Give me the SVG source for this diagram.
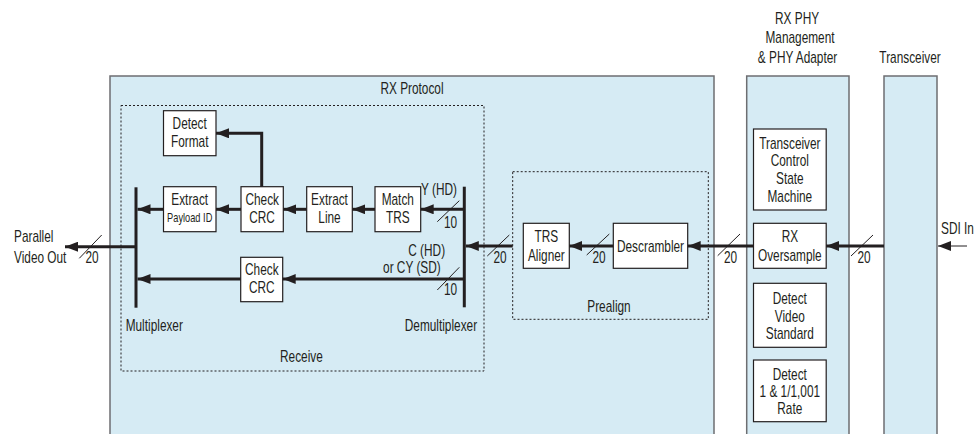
<svg xmlns="http://www.w3.org/2000/svg" width="978" height="434" viewBox="0 0 978 434">
<style>
text{font-family:"Liberation Sans",Arial,sans-serif;font-size:16px;fill:#231f20;transform-box:fill-box;transform:scaleX(0.74);transform-origin:left center}
.m{text-anchor:middle;transform-origin:center}
.e{text-anchor:end;transform-origin:right center}
.sm{font-size:12.5px}
.big{fill:#d6ebf4;stroke:#6d6e71;stroke-width:1.5}
.box{fill:#ffffff;stroke:#231f20;stroke-width:1.2}
.dash{fill:none;stroke:#231f20;stroke-width:1;stroke-dasharray:2 2}
.bus{fill:none;stroke:#231f20;stroke-width:3;marker-end:url(#ah)}
.thin{fill:none;stroke:#231f20;stroke-width:1;marker-end:url(#ah)}
.bar{stroke:#231f20;stroke-width:3}
.sl{stroke:#231f20;stroke-width:1}
</style>
<defs>
<marker id="ah" markerUnits="userSpaceOnUse" markerWidth="13" markerHeight="10" refX="13" refY="5" orient="auto">
<path d="M0,0 L13,5 L0,10 Z" fill="#231f20"/>
</marker>
</defs>
<rect width="978" height="434" fill="#ffffff"/>

<g id="rx_protocol">
<rect class="big" x="110" y="76" width="604" height="400"/>
<text class="m" x="412" y="93.8">RX Protocol</text>
</g>
<g id="rx_phy">
<rect class="big" x="746.7" y="76" width="102.3" height="400"/>
<text class="m" x="797" y="24.1">RX PHY</text>
<text class="m" x="800" y="43.1">Management</text>
<text class="m" x="797.5" y="63.1">&amp; PHY Adapter</text>
</g>
<g id="transceiver">
<rect class="big" x="884" y="76" width="53" height="400"/>
<text class="m" x="910" y="63.1">Transceiver</text>
</g>

<g id="receive">
<rect class="dash" x="121" y="105.5" width="363" height="265.5"/>
<text class="m" x="301.4" y="362.5">Receive</text>
</g>
<g id="prealign">
<rect class="dash" x="512.7" y="171.7" width="195.6" height="147.6"/>
<text class="m" x="609" y="311.8">Prealign</text>
</g>

<g id="detect_format">
<rect class="box" x="163.5" y="110.7" width="52.5" height="45"/>
<text class="m" x="189.7" y="129.1">Detect</text>
<text class="m" x="189.7" y="146.8">Format</text>
</g>
<g id="extract_payload_id">
<rect class="box" x="163.5" y="186.7" width="52.5" height="45"/>
<text class="m" x="189.7" y="205.1">Extract</text>
<text class="m sm" x="189.7" y="222.2">Payload ID</text>
</g>
<g id="check_crc_y">
<rect class="box" x="241" y="186.7" width="42.3" height="45"/>
<text class="m" x="262.1" y="205.1">Check</text>
<text class="m" x="262.1" y="223.1">CRC</text>
</g>
<g id="extract_line">
<rect class="box" x="306.7" y="186.7" width="45.6" height="45"/>
<text class="m" x="329.5" y="205.1">Extract</text>
<text class="m" x="329.5" y="223.1">Line</text>
</g>
<g id="match_trs">
<rect class="box" x="375" y="186.7" width="45.7" height="45"/>
<text class="m" x="397.8" y="205.1">Match</text>
<text class="m" x="397.8" y="223.1">TRS</text>
</g>
<g id="check_crc_c">
<rect class="box" x="240.7" y="257.3" width="42" height="44.4"/>
<text class="m" x="261.7" y="275.1">Check</text>
<text class="m" x="261.7" y="293.1">CRC</text>
</g>
<g id="multiplexer">
<line class="bar" x1="136" y1="187.3" x2="136" y2="307.7"/>
<text x="125.7" y="330.8">Multiplexer</text>
</g>
<g id="demultiplexer">
<line class="bar" x1="464.3" y1="186.7" x2="464.3" y2="307.3"/>
<text class="e" x="477" y="330.8">Demultiplexer</text>
</g>
<g id="trs_aligner">
<rect class="box" x="523.3" y="223.3" width="46" height="45"/>
<text class="m" x="546.3" y="242.5">TRS</text>
<text class="m" x="546.3" y="260.8">Aligner</text>
</g>
<g id="descrambler">
<rect class="box" x="613.3" y="223.3" width="74.4" height="45"/>
<text class="m" x="650.5" y="251.8">Descrambler</text>
</g>
<g id="transceiver_control_state_machine">
<rect class="box" x="753.5" y="129" width="72.7" height="81"/>
<text class="m" x="789.8" y="149.1">Transceiver</text>
<text class="m" x="789.8" y="166.5">Control</text>
<text class="m" x="789.8" y="184.1">State</text>
<text class="m" x="789.8" y="202.5">Machine</text>
</g>
<g id="rx_oversample">
<rect class="box" x="753.5" y="223.3" width="72.7" height="45"/>
<text class="m" x="789.8" y="242.5">RX</text>
<text class="m" x="789.8" y="260.8">Oversample</text>
</g>
<g id="detect_video_standard">
<rect class="box" x="753.5" y="283.3" width="72.7" height="64"/>
<text class="m" x="789.8" y="304.1">Detect</text>
<text class="m" x="789.8" y="321.8">Video</text>
<text class="m" x="789.8" y="339.1">Standard</text>
</g>
<g id="detect_rate">
<rect class="box" x="753.5" y="360" width="72.7" height="61.7"/>
<text class="m" x="789.8" y="379.8">Detect</text>
<text class="m" x="789.8" y="397.5">1 &amp; 1/1,001</text>
<text class="m" x="789.8" y="414.1">Rate</text>
</g>

<g id="connectors">
<polyline class="bus" points="261.7,186.7 261.7,133.3 216,133.3"/>
<line class="bus" x1="163.5" y1="209.3" x2="137.5" y2="209.3"/>
<line class="bus" x1="241" y1="209.3" x2="216" y2="209.3"/>
<line class="bus" x1="306.7" y1="209.3" x2="283.3" y2="209.3"/>
<line class="bus" x1="375" y1="209.3" x2="352.3" y2="209.3"/>
<line class="bus" x1="464.3" y1="209.3" x2="420.7" y2="209.3"/>
<line class="bus" x1="512.7" y1="246" x2="465.8" y2="246"/>
<line class="bus" x1="464.3" y1="279" x2="282.7" y2="279"/>
<line class="bus" x1="240.7" y1="279" x2="137.5" y2="279"/>
<line class="bus" x1="136" y1="246.7" x2="65" y2="246.7"/>
<line class="bus" x1="613.3" y1="246" x2="569.3" y2="246"/>
<line class="bus" x1="753.5" y1="246" x2="687.7" y2="246"/>
<line class="bus" x1="884" y1="246" x2="826.2" y2="246"/>
<line class="thin" x1="967" y1="246" x2="938" y2="246"/>

<line class="sl" x1="79.3" y1="258.3" x2="101.7" y2="235"/>
<line class="sl" x1="437.3" y1="221.7" x2="459.3" y2="200.7"/>
<line class="sl" x1="487.3" y1="256" x2="509.3" y2="235"/>
<line class="sl" x1="437.3" y1="290" x2="459.3" y2="267.3"/>
<line class="sl" x1="586.7" y1="255" x2="609.3" y2="234"/>
<line class="sl" x1="717.7" y1="255.7" x2="740" y2="234"/>
<line class="sl" x1="851" y1="256" x2="873" y2="235"/>

<text class="m" x="92" y="263.5">20</text>
<text class="m" x="450.5" y="228.5">10</text>
<text class="m" x="500" y="263.5">20</text>
<text class="m" x="450.5" y="295.1">10</text>
<text class="m" x="599" y="262.8">20</text>
<text class="m" x="730.5" y="263.1">20</text>
<text class="m" x="864" y="262.8">20</text>

<text class="e" x="457" y="195.1">Y (HD)</text>
<text class="m" x="426.7" y="255.8">C (HD)</text>
<text class="e" x="440.7" y="273.5">or CY (SD)</text>
<text x="14" y="241.8">Parallel</text>
<text x="14" y="263.1">Video Out</text>
<text x="941" y="233.8">SDI In</text>
</g>
</svg>
